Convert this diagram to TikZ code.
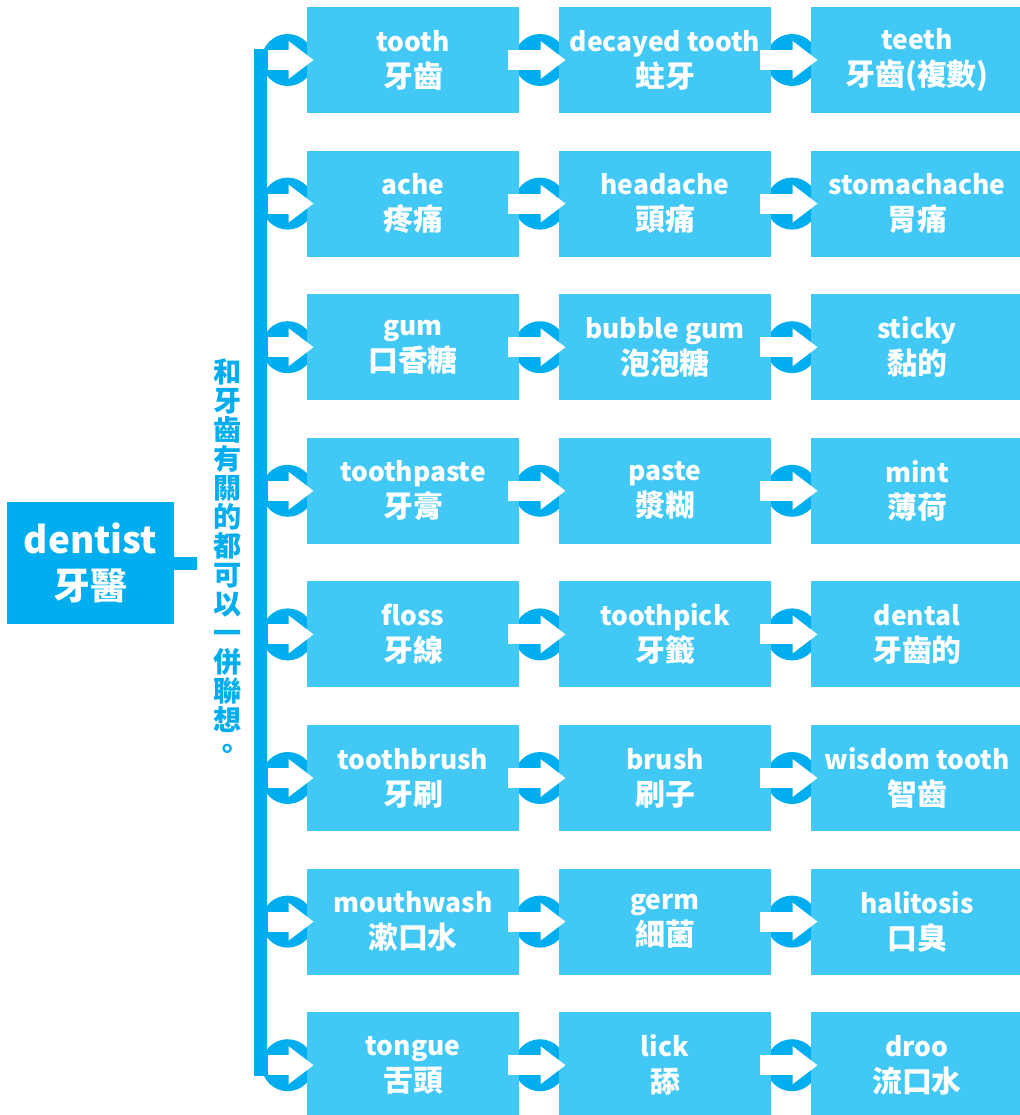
\documentclass[tikz,border=0pt]{standalone}
\usepackage{fontspec}
\setmainfont{Noto Sans CJK TC}
\usetikzlibrary{arrows.meta,calc,backgrounds}
\definecolor{dentblue}{HTML}{00AEEF}
\definecolor{boxblue}{HTML}{42C8F4}
\newcommand{\zh}{\fontsize{17}{20.5}\selectfont}

\begin{document}
\begin{tikzpicture}[x=0.02cm, y=-0.02cm,
  every node/.style={font=\bfseries\fontsize{15}{20.5}\selectfont, text=white, align=center},
  word/.style={fill=boxblue, minimum width=4.24cm, minimum height=2.12cm, inner sep=0pt},
  hub/.style={fill=dentblue, minimum width=3.34cm, minimum height=2.44cm, inner sep=0pt,
    font=\bfseries\fontsize{21}{26.6}\selectfont},
  ring/.style={fill=dentblue},
  link/.style={white, line width=0.4cm, -{Triangle[length=0.5cm,width=0.72cm]}},
  spine/.style={dentblue, line width=0.26cm}]
\useasboundingbox (0,0) rectangle (1019,1115);

\node[hub] (dentist) at (90.5,563) {dentist\\牙醫};
\draw[spine] (dentist.east) -- ++(23,0);
\node[text=dentblue, font=\bfseries\fontsize{16}{16.5}\selectfont] (note) at (228,559)
  {和\\牙\\齒\\有\\關\\的\\都\\可\\以\\一\\併\\聯\\想\\。};

% column 1
\node[word] (tooth) at (413,60) {tooth\\{\zh 牙齒}};
\node[word] (ache) at (413,203.6) {ache\\{\zh 疼痛}};
\node[word] (gum) at (413,347.2) {gum\\{\zh 口香糖}};
\node[word] (toothpaste) at (413,490.8) {toothpaste\\{\zh 牙膏}};
\node[word] (floss) at (413,634.4) {floss\\{\zh 牙線}};
\node[word] (toothbrush) at (413,778) {toothbrush\\{\zh 牙刷}};
\node[word] (mouthwash) at (413,921.6) {mouthwash\\{\zh 漱口水}};
\node[word] (tongue) at (413,1065.2) {tongue\\{\zh 舌頭}};
% column 2
\node[word] (decayed) at (665,60) {decayed tooth\\{\zh 蛀牙}};
\node[word] (headache) at (665,203.6) {headache\\{\zh 頭痛}};
\node[word] (bubblegum) at (665,347.2) {bubble gum\\{\zh 泡泡糖}};
\node[word] (paste) at (665,490.8) {paste\\{\zh 漿糊}};
\node[word] (toothpick) at (665,634.4) {toothpick\\{\zh 牙籤}};
\node[word] (brush) at (665,778) {brush\\{\zh 刷子}};
\node[word] (germ) at (665,921.6) {germ\\{\zh 細菌}};
\node[word] (lick) at (665,1065.2) {lick\\{\zh 舔}};
% column 3
\node[word] (teeth) at (917,60) {teeth\\{\zh 牙齒(複數)}};
\node[word] (stomachache) at (917,203.6) {stomachache\\{\zh 胃痛}};
\node[word] (sticky) at (917,347.2) {sticky\\{\zh 黏的}};
\node[word] (mint) at (917,490.8) {mint\\{\zh 薄荷}};
\node[word] (dental) at (917,634.4) {dental\\{\zh 牙齒的}};
\node[word] (wisdom) at (917,778) {wisdom tooth\\{\zh 智齒}};
\node[word] (halitosis) at (917,921.6) {halitosis\\{\zh 口臭}};
\node[word] (droo) at (917,1065.2) {droo\\{\zh 流口水}};

\coordinate (top) at ($(tooth.west)+(-46,-11)$);
\coordinate (bottom) at ($(tongue.west)+(-46,11)$);
\begin{scope}[on background layer]
\draw[spine] (top) -- (bottom);
\end{scope}

\foreach \a/\b/\c in {tooth/decayed/teeth, ache/headache/stomachache, gum/bubblegum/sticky,
    toothpaste/paste/mint, floss/toothpick/dental, toothbrush/brush/wisdom,
    mouthwash/germ/halitosis, tongue/lick/droo} {
  \begin{scope}[on background layer]
  \fill[ring] ($(\a.west)+(-19,0)$) circle (0.52cm);
  \fill[ring] ($(\a.east)!0.5!(\b.west)+(1,0)$) circle (0.52cm);
  \fill[ring] ($(\b.east)!0.5!(\c.west)+(1,0)$) circle (0.52cm);
  \end{scope}
  \draw[link] ($(\a.west)+(-39,0)$) -- ($(\a.west)+(7,0)$);
  \draw[link] ($(\a.east)+(-11,0)$) -- ($(\b.west)+(7,0)$);
  \draw[link] ($(\b.east)+(-11,0)$) -- ($(\c.west)+(7,0)$);
}
\end{tikzpicture}
\end{document}
